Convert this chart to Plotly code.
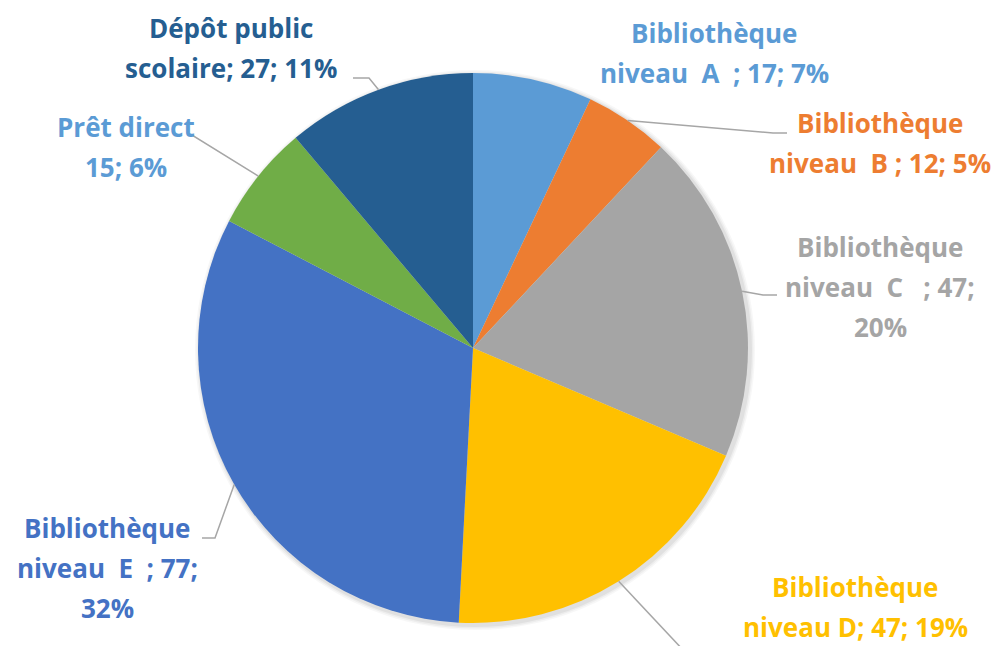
import math
import plotly.graph_objects as go

# ---- data ----
categories = ["Bibliothèque niveau A", "Bibliothèque niveau B", "Bibliothèque niveau C",
              "Bibliothèque niveau D", "Bibliothèque niveau E", "Prêt direct", "Dépôt public scolaire"]
values = [17, 12, 47, 47, 77, 15, 27]
percent_labels = ["7%", "5%", "20%", "19%", "32%", "6%", "11%"]
label_lines = [
    ["Bibliothèque", "niveau\u00a0\u00a0A\u00a0\u00a0; 17; 7%"],
    ["Bibliothèque", "niveau\u00a0\u00a0B\u00a0; 12; 5%"],
    ["Bibliothèque", "niveau\u00a0\u00a0C\u00a0\u00a0\u00a0; 47;", "20%"],
    ["Bibliothèque", "niveau D; 47; 19%"],
    ["Bibliothèque", "niveau\u00a0\u00a0E\u00a0\u00a0; 77;", "32%"],
    ["Prêt direct", "15; 6%"],
    ["Dépôt public", "scolaire; 27; 11%"],
]
slice_colors = ["#5B9BD5", "#ED7D31", "#A5A5A5", "#FFC000", "#4472C4", "#70AD47", "#255E91"]
label_colors = ["#5B9BD5", "#ED7D31", "#A5A5A5", "#FFC000", "#4472C4", "#5B9BD5", "#255E91"]

# ---- layout geometry (pixels) ----
W, H = 1003, 646
PIE_L, PIE_R, PIE_T, PIE_B = 198, 748, 73, 623
cx, cy = (PIE_L + PIE_R) / 2, (PIE_T + PIE_B) / 2
R = min(PIE_R - PIE_L, PIE_B - PIE_T) / 2

label_pos = [(714, 33), (880, 123), (880, 247), (855, 587), (107, 528), (126, 127), (231, 28)]
line_step = 40
leader_pts = [None, [(773, 133), (787, 133)], [(763, 295), (777, 295)], [(700, 668)],
              [(215, 538), (202, 538)], [(192, 135), (188, 135)], [(369, 78), (353, 78)]]


def px(x):
    return x / W


def py(y):
    return 1 - y / H


fig = go.Figure()
# soft shadow layers behind the pie
for grow, alpha in [(5, 0.03), (3.5, 0.04), (2, 0.05)]:
    fig.add_trace(go.Pie(
        values=[sum(values)], marker=dict(colors=[f"rgba(0,0,0,{alpha})"], line=dict(width=0)),
        textinfo="none", hoverinfo="skip", showlegend=False, sort=False,
        domain=dict(x=[px(PIE_L - grow + 2), px(PIE_R + grow + 2)],
                    y=[py(PIE_B + grow + 2), py(PIE_T - grow + 2)]),
    ))

fig.add_trace(go.Pie(
    labels=categories, values=values, sort=False, direction="clockwise", rotation=0,
    marker=dict(colors=slice_colors, line=dict(width=0)),
    textinfo="none", hoverinfo="label+value+percent", showlegend=False,
    domain=dict(x=[px(PIE_L), px(PIE_R)], y=[py(PIE_B), py(PIE_T)]),
))

total = sum(values)
cum = 0
shapes = []
annotations = []
for i, v in enumerate(values):
    mid = (cum + v / 2) / total * 2 * math.pi
    cum += v
    sx, sy = cx + R * math.sin(mid), cy - R * math.cos(mid)
    if leader_pts[i]:
        pts = [(sx, sy)] + leader_pts[i]
        path = "M " + " L ".join(f"{px(x):.5f},{py(y):.5f}" for x, y in pts)
        shapes.append(dict(type="path", xref="paper", yref="paper", path=path,
                           line=dict(color="#A6A6A6", width=1.5)))
    lx, ly = label_pos[i]
    for j, t in enumerate(label_lines[i]):
        annotations.append(dict(
            x=px(lx), y=py(ly + j * line_step), xref="paper", yref="paper",
            text=t, showarrow=False, xanchor="center", yanchor="middle",
            font=dict(family="Open Sans", size=26, color=label_colors[i], weight="bold"),
        ))

fig.update_layout(
    width=W, height=H, margin=dict(l=0, r=0, t=0, b=0),
    paper_bgcolor="white", plot_bgcolor="white",
    shapes=shapes, annotations=annotations,
)
fig.write_html("out.html")
